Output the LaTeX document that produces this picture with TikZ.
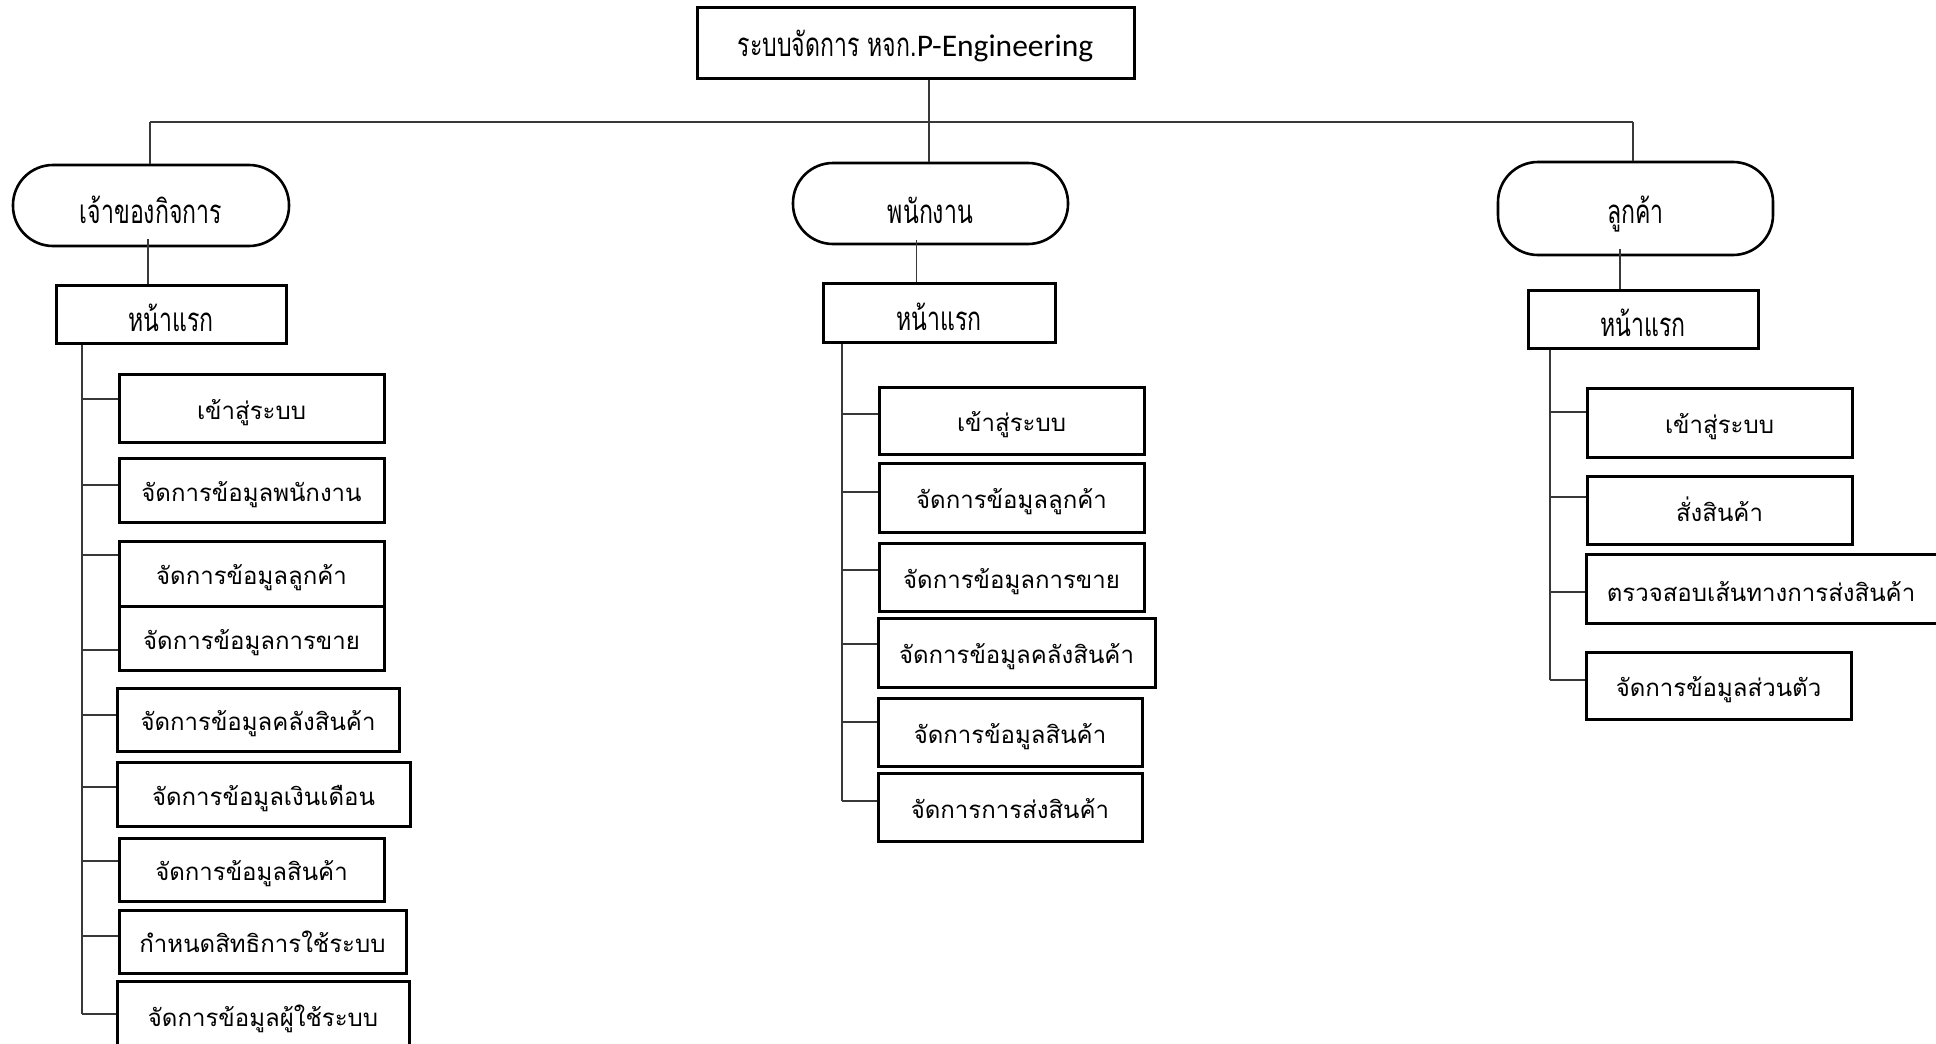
\documentclass[tikz,border=0pt]{standalone}
\usepackage{fontspec}
\newfontfamily\thai[Script=Thai]{Loma}
\newfontfamily\thainarrow[Script=Thai,FakeStretch=0.7]{Loma}
\newfontfamily\latfont{Carlito}
\begin{document}
\begin{tikzpicture}[x=1pt,y=-1pt,
  conn/.style={draw=black!78, line width=1.3pt},
  childfont/.style={inner sep=0pt, text height=23pt, text depth=1pt,
    font=\thai\fontsize{24}{28}\selectfont},
  boxnode/.style={draw, line width=3pt, childfont},
  headtext/.style={inner sep=0pt, text height=36pt, text depth=1pt,
    font=\thainarrow\fontsize{33}{36}\selectfont},
  headbox/.style={draw, line width=3pt, headtext},
  stadium/.style={draw, line width=2.6pt, rounded corners=40pt, inner sep=0pt}
]
\useasboundingbox (0,0) rectangle (1936,1044);
\fill[white] (0,0) rectangle (1936,1044);

% title
\node[draw, line width=3pt, minimum width=437pt, minimum height=71pt, inner sep=0pt,
  text height=28pt, text depth=1pt] (title) at (915.5,42.5)
  {{\thainarrow\fontsize{33}{36}\selectfont ระบบจัดการ หจก.}{\latfont\fontsize{31.5}{36}\selectfont P-Engineering}};

% role stadiums
\node[stadium, minimum width=276pt, minimum height=81pt] (os) at (151,205.5) {};
\node[headtext] at (151,205.5) {เจ้าของกิจการ};
\node[stadium, minimum width=275pt, minimum height=81pt] (es) at (930.5,203.5) {};
\node[headtext] at (930.5,205.5) {พนักงาน};
\node[stadium, minimum width=275pt, minimum height=93pt] (cs) at (1635.5,208.5) {};
\node[headtext] at (1635.5,205.5) {ลูกค้า};

% home boxes
\node[headbox, minimum width=230pt, minimum height=58pt] (oh) at (171,314) {หน้าแรก};
\node[headbox, minimum width=232pt, minimum height=59pt] (eh) at (939,312.5) {หน้าแรก};
\node[headbox, minimum width=230pt, minimum height=58pt] (ch) at (1643,319) {หน้าแรก};

% bus
\coordinate (bl) at (150,122);
\coordinate (bm) at (929,122);
\coordinate (br) at (1633,122);
\draw[conn] (bl) -- (br);
\draw[conn] (title.south -| bm) -- (bm) -- (bm |- es.north);
\draw[conn] (bl) -- (bl |- os.north);
\draw[conn] (br) -- (br |- cs.north);

% stadium to home
\coordinate (os1) at (148,239);
\coordinate (es1) at (916.5,240);
\coordinate (cs1) at (1620,249);
\draw[conn] (os1) -- (os1 |- oh.north);
\draw[conn] (es1) -- (es1 |- eh.north);
\draw[conn] (cs1) -- (cs1 |- ch.north);

% owner children
\node[boxnode, minimum width=265pt, minimum height=68pt] (o1) at (251.5,408) {เข้าสู่ระบบ};
\node[boxnode, minimum width=265pt, minimum height=64pt] (o2) at (251.5,490) {จัดการข้อมูลพนักงาน};
\node[boxnode, minimum width=265pt, minimum height=65pt] (o3) at (251.5,573.5) {จัดการข้อมูลลูกค้า};
\node[boxnode, minimum width=265pt, minimum height=64pt] (o4) at (251.5,638) {จัดการข้อมูลการขาย};
\node[boxnode, minimum width=282pt, minimum height=63pt] (o5) at (258,719.5) {จัดการข้อมูลคลังสินค้า};
\node[boxnode, minimum width=293pt, minimum height=64pt] (o6) at (263.5,794) {จัดการข้อมูลเงินเดือน};
\node[boxnode, minimum width=265pt, minimum height=63pt] (o7) at (251.5,869.5) {จัดการข้อมูลสินค้า};
\node[boxnode, minimum width=287pt, minimum height=63pt] (o8) at (262.5,941.5) {กำหนดสิทธิการใช้ระบบ};
\node[boxnode, minimum width=292pt, minimum height=75pt] (o9) at (263,1018.5) {};
\node[childfont] at (263,1015) {จัดการข้อมูลผู้ใช้ระบบ};

\coordinate (ot1) at (82,399);
\coordinate (ot2) at (82,485);
\coordinate (ot3) at (82,555);
\coordinate (ot4) at (82,650);
\coordinate (ot5) at (82,715);
\coordinate (ot6) at (82,787);
\coordinate (ot7) at (82,861);
\coordinate (ot8) at (82,936);
\coordinate (ot9) at (82,1014);
\draw[conn] (ot1 |- oh.south) -- (ot9);
\foreach \i in {1,...,9} \draw[conn] (ot\i) -- (ot\i -| o\i.west);

% employee children
\node[boxnode, minimum width=265pt, minimum height=67pt] (e1) at (1011.5,420.5) {เข้าสู่ระบบ};
\node[boxnode, minimum width=265pt, minimum height=69pt] (e2) at (1011.5,497.5) {จัดการข้อมูลลูกค้า};
\node[boxnode, minimum width=265pt, minimum height=68pt] (e3) at (1011.5,577) {จัดการข้อมูลการขาย};
\node[boxnode, minimum width=277pt, minimum height=69pt] (e4) at (1016.5,652.5) {จัดการข้อมูลคลังสินค้า};
\node[boxnode, minimum width=264pt, minimum height=68pt] (e5) at (1010,732) {จัดการข้อมูลสินค้า};
\node[boxnode, minimum width=264pt, minimum height=68pt] (e6) at (1010,807) {จัดการการส่งสินค้า};

\coordinate (et1) at (842,414);
\coordinate (et2) at (842,492);
\coordinate (et3) at (842,570);
\coordinate (et4) at (842,644);
\coordinate (et5) at (842,722);
\coordinate (et6) at (842,801);
\draw[conn] (et1 |- eh.south) -- (et6);
\foreach \i in {1,...,6} \draw[conn] (et\i) -- (et\i -| e\i.west);

% customer children
\node[boxnode, minimum width=265pt, minimum height=69pt] (c1) at (1719.5,422.5) {เข้าสู่ระบบ};
\node[boxnode, minimum width=265pt, minimum height=68pt] (c2) at (1719.5,510) {สั่งสินค้า};
\node[boxnode, minimum width=359pt, minimum height=69pt] (c3) at (1765.5,588.5) {};
\node[childfont] at (1761,590) {ตรวจสอบเส้นทางการส่งสินค้า};
\node[boxnode, minimum width=265pt, minimum height=67pt] (c4) at (1718.5,685.5) {จัดการข้อมูลส่วนตัว};

\coordinate (ct1) at (1550,412);
\coordinate (ct2) at (1550,497);
\coordinate (ct3) at (1550,592);
\coordinate (ct4) at (1550,680);
\draw[conn] (ct1 |- ch.south) -- (ct4);
\foreach \i in {1,...,4} \draw[conn] (ct\i) -- (ct\i -| c\i.west);
\end{tikzpicture}
\end{document}
